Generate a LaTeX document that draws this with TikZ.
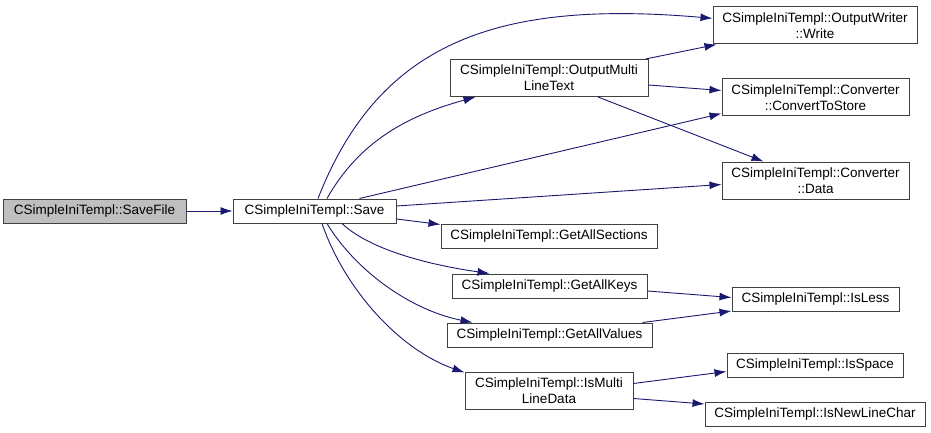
\documentclass[tikz,border=0pt]{standalone}
\usepackage{fontspec}
\setmainfont{Liberation Sans}
\usetikzlibrary{arrows.meta,positioning,calc}
\definecolor{edge}{HTML}{191970}
\definecolor{frame}{HTML}{404040}
\definecolor{rootfill}{HTML}{BFBFBF}

\begin{document}
\begin{tikzpicture}[
  x=1pt, y=-1pt,
  >={Latex[length=12pt,width=8pt]},
  fn/.style={rectangle, draw=frame, line width=1pt, fill=white, minimum height=24pt, inner sep=2pt, align=center, font=\fontsize{13.5}{16}\selectfont},
  fn2/.style={fn, minimum height=37pt},
  call/.style={->, color=edge, line width=0.9pt},
]
\useasboundingbox (0,0) rectangle (931,433);

% caller and Save
\node[fn, fill=rootfill, minimum width=183pt] (savefile) at (94.5,211) {CSimpleIniTempl::SaveFile};
\node[fn, minimum width=163pt] (save) at (314.5,211) {CSimpleIniTempl::Save};

% middle column
\node[fn2, minimum width=198pt] (outmulti) at (549,78) {CSimpleIniTempl::OutputMulti\\LineText};
\node[fn, minimum width=216pt] (sections) at (549,236) {CSimpleIniTempl::GetAllSections};
\node[fn, minimum width=195pt] (keys) at (549.5,286) {CSimpleIniTempl::GetAllKeys};
\node[fn, minimum width=205pt] (values) at (549.5,335) {CSimpleIniTempl::GetAllValues};
\node[fn2, minimum width=168pt] (multiline) at (549,390.5) {CSimpleIniTempl::IsMulti\\LineData};

% right column
\node[fn2, minimum width=204pt] (write) at (815,25.5) {CSimpleIniTempl::OutputWriter\\::Write};
\node[fn2, minimum width=187pt] (tostore) at (815.5,97.5) {CSimpleIniTempl::Converter\\::ConvertToStore};
\node[fn2, minimum width=187pt] (data) at (815.5,180.5) {CSimpleIniTempl::Converter\\::Data};
\node[fn, minimum width=167pt] (isless) at (815.5,299.5) {CSimpleIniTempl::IsLess};
\node[fn, minimum width=176pt] (isspace) at (815,365.5) {CSimpleIniTempl::IsSpace};
\node[fn, minimum width=220pt] (newline) at (815,414.5) {CSimpleIniTempl::IsNewLineChar};

% calls
\draw[call] (savefile) -- (save);
\draw[call] ([xshift=3.5pt]save.north) .. controls (380,40) and (500,0) .. (write.176);
\draw[call] ([xshift=12.5pt]save.north) .. controls (360,140) and (410,115) .. ([xshift=26pt]outmulti.south west);
\draw[call] ([xshift=45pt]save.north) -- ([yshift=3pt]tostore.south west);
\draw[call] ([yshift=5pt]save.east) -- ([yshift=-4pt]data.west);
\draw[call] ([yshift=-8pt]save.east) -- ([yshift=-1pt]sections.north west);
\draw[call] ([xshift=27.5pt]save.south) .. controls (370,250) and (430,265) .. ([xshift=38pt]keys.north west);
\draw[call] ([xshift=12.5pt]save.south) .. controls (355,270) and (410,310) .. ([xshift=26pt]values.north west);
\draw[call] ([xshift=7.5pt]save.south) .. controls (345,290) and (400,350) .. ([yshift=-1pt]multiline.north west);
\draw[call] ([xshift=-3pt]outmulti.north east) -- ([xshift=4pt]write.south west);
\draw[call] ([yshift=-7pt]outmulti.east) -- ([yshift=7pt]tostore.west);
\draw[call] ([xshift=49pt]outmulti.south) -- ([xshift=-52pt]data.north);
\draw[call] ([yshift=-5pt]keys.east) -- ([yshift=2pt]isless.west);
\draw[call] ([xshift=-10pt]values.north east) -- ([yshift=1pt]isless.south west);
\draw[call] ([yshift=7pt]multiline.east) -- ([yshift=-6pt]isspace.west);
\draw[call] ([yshift=-8pt]multiline.east) -- ([yshift=-2pt]newline.north west);
\end{tikzpicture}
\end{document}
